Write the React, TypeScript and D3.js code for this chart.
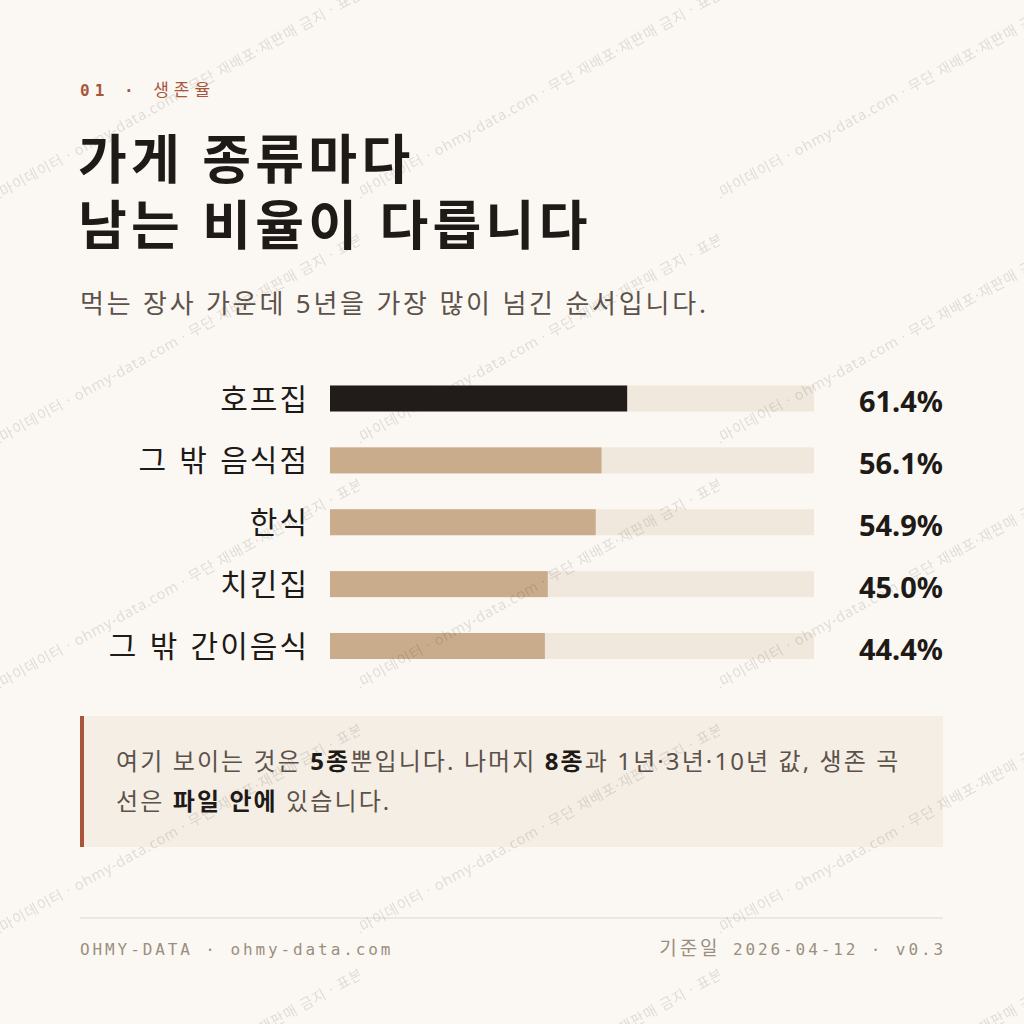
import { useEffect, useRef } from 'react';
import * as d3 from 'd3';

// 5-year survival rate by store type (%)
const categories = ['호프집', '그 밖 음식점', '한식', '치킨집', '그 밖 간이음식'];
const survival5y = [61.4, 56.1, 54.9, 45.0, 44.4];
const highlighted = '호프집';

const kickerNum = '01 · ';
const kickerWord = '생존율';
const titleLines = ['가게 종류마다', '남는 비율이 다릅니다'];
const subtitle = '먹는 장사 가운데 5년을 가장 많이 넘긴 순서입니다.';

// callout text, [text, bold]
const noteLines: [string, boolean][][] = [
  [['여기 보이는 것은 ', false], ['5종', true], ['뿐입니다. 나머지 ', false], ['8종', true], ['과 1년·3년·10년 값, 생존 곡', false]],
  [['선은 ', false], ['파일 안에', true], [' 있습니다.', false]],
];

const footerLeft = 'OHMY-DATA · ohmy-data.com';
const footerDateLabel = '기준일';
const footerRight = ' 2026-04-12 · v0.3';
const watermark = '오마이데이터 · ohmy-data.com · 무단 재배포·재판매 금지 · 표본';

const SANS = "'Noto Sans', 'Noto Sans CJK KR', sans-serif";
const MONO = "'DejaVu Sans Mono', 'Noto Sans CJK KR', monospace";

const INK = '#1e1a17';
const SOFT = '#5c524a';
const RUST = '#a8553a';

function Bars() {
  const gRef = useRef<SVGGElement | null>(null);

  useEffect(() => {
    if (!gRef.current) return;
    const g = d3.select(gRef.current);
    g.selectAll('*').remove();

    const data = categories.map((c, i) => ({ cat: c, v: survival5y[i] }));

    const x = d3.scaleLinear().domain([0, 100]).range([330, 814]);
    const y = d3.scalePoint<string>().domain(categories).range([398.5, 646]);
    const barH = 26;

    // background tracks
    g.selectAll('rect.track')
      .data(data)
      .join('rect')
      .attr('class', 'track')
      .attr('x', x(0))
      .attr('width', x(100) - x(0))
      .attr('y', d => y(d.cat)! - barH / 2)
      .attr('height', barH)
      .attr('fill', '#f0e8dc');

    g.selectAll('rect.bar')
      .data(data)
      .join('rect')
      .attr('class', 'bar')
      .attr('x', x(0))
      .attr('width', d => x(d.v) - x(0))
      .attr('y', d => y(d.cat)! - barH / 2)
      .attr('height', barH)
      .attr('fill', d => (d.cat === highlighted ? '#211c19' : '#c9ac8b'));

    // category labels
    g.selectAll('text.label')
      .data(data)
      .join('text')
      .attr('class', 'label')
      .attr('x', 309)
      .attr('y', d => y(d.cat)! + 11)
      .attr('text-anchor', 'end')
      .attr('font-family', SANS)
      .attr('font-size', 30)
      .attr('letter-spacing', 2)
      .attr('word-spacing', 1.5)
      .attr('fill', INK)
      .text(d => d.cat);

    // values
    g.selectAll('text.value')
      .data(data)
      .join('text')
      .attr('class', 'value')
      .attr('x', 943)
      .attr('y', d => y(d.cat)! + 13.5)
      .attr('text-anchor', 'end')
      .attr('font-family', SANS)
      .attr('font-weight', 700)
      .attr('font-size', 29)
      .attr('fill', INK)
      .text(d => d.v.toFixed(1) + '%');
  }, []);

  return <g ref={gRef} />;
}

export default function App() {
  return (
    <svg
      width={1024}
      height={1024}
      viewBox="0 0 1024 1024"
      style={{ position: 'absolute', left: 0, top: 0, display: 'block' }}
    >
      <defs>
        <pattern id="wm" patternUnits="userSpaceOnUse" x={0} y={-40} width={360} height={245}>
          <text
            transform="translate(-9,244) rotate(-29)"
            fontFamily={SANS}
            fontSize={14.5}
            letterSpacing={0.8}
            fill={INK}
            fillOpacity={0.13}
          >
            {watermark}
          </text>
        </pattern>
      </defs>

      <rect width={1024} height={1024} fill="#fbf8f3" />

      <text x={80} y={96} fontFamily={MONO} fontSize={16} letterSpacing={5} fill={RUST}>
        <tspan fontWeight={700}>{kickerNum}</tspan>
        <tspan fontSize={17}>{kickerWord}</tspan>
      </text>

      {titleLines.map((t, i) => (
        <text
          key={t}
          x={78}
          y={179 + i * 66}
          fontFamily={SANS}
          fontWeight={700}
          fontSize={53}
          letterSpacing={4.3}
          fill={INK}
        >
          {t}
        </text>
      ))}

      <text x={80} y={313} fontFamily={SANS} fontSize={26} letterSpacing={2.8} fill={SOFT}>
        {subtitle}
      </text>

      <Bars />

      {/* callout */}
      <rect x={80} y={716} width={863} height={131} fill="#f5eee5" />
      <rect x={80} y={716} width={4} height={131} fill="#a9553b" />
      {noteLines.map((line, i) => (
        <text key={i} x={116} y={770 + i * 40} fontFamily={SANS} fontSize={24} letterSpacing={2.1} fill={SOFT}>
          {line.map(([s, b], j) => (
            <tspan key={j} fontWeight={b ? 700 : 400} fill={b ? INK : SOFT}>
              {s}
            </tspan>
          ))}
        </text>
      ))}

      {/* footer */}
      <line x1={80} x2={943} y1={918} y2={918} stroke="#e9e2d7" strokeWidth={1.5} />
      <text x={80} y={955} fontFamily={MONO} fontSize={16} letterSpacing={2.9} fill="#9b8e7f">
        {footerLeft}
      </text>
      <text x={946} y={955} textAnchor="end" fontFamily={MONO} fontSize={16} letterSpacing={2.9} fill="#9b8e7f">
        <tspan fontSize={19}>{footerDateLabel}</tspan>
        {footerRight}
      </text>

      <rect width={1024} height={1024} fill="url(#wm)" pointerEvents="none" />
    </svg>
  );
}
